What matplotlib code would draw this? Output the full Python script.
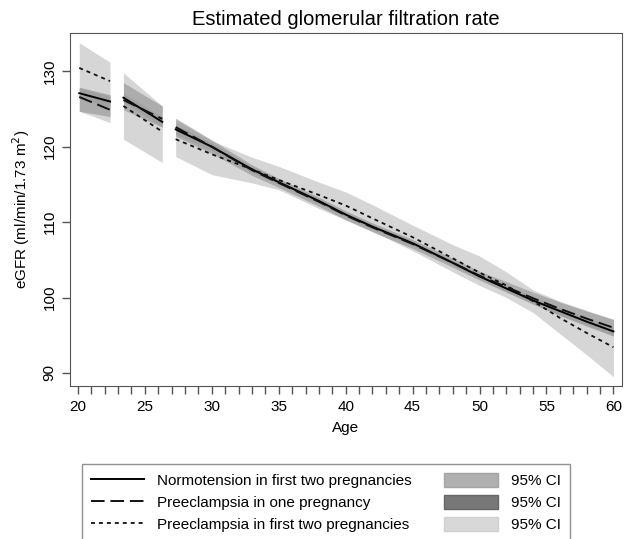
import matplotlib
matplotlib.use("Agg")
from matplotlib import pyplot as plt
from matplotlib.lines import Line2D
from matplotlib.patches import Patch
from matplotlib.ticker import MultipleLocator

plt.rcParams["font.family"] = ["Liberation Sans", "DejaVu Sans"]

# three age segments
age_1 = [20.1, 22.4]
age_2 = [23.4, 26.3]
age_3 = [27.3, 30, 33, 35, 38, 40, 42, 45, 48, 50, 52, 54, 56, 58, 60]

# normotension in first two pregnancies
norm_1 = [127.1, 126.0]
norm_1_lo = [126.4, 125.3]
norm_1_hi = [127.8, 126.7]
norm_2 = [126.5, 123.3]
norm_2_lo = [125.9, 122.7]
norm_2_hi = [127.1, 123.9]
norm_3 = [122.3, 120.0, 117.0, 115.3, 112.8, 111.0, 109.4, 107.2, 104.6, 102.8, 101.2, 99.6, 98.2, 96.8, 95.5]
norm_3_lo = [121.7, 119.5, 116.6, 115.0, 112.5, 110.7, 109.1, 106.9, 104.3, 102.5, 100.8, 99.2, 97.7, 96.3, 94.9]
norm_3_hi = [122.9, 120.5, 117.4, 115.6, 113.1, 111.3, 109.7, 107.5, 104.9, 103.1, 101.6, 100.0, 98.7, 97.3, 96.1]

# preeclampsia in one pregnancy
one_1 = [126.6, 124.9]
one_1_lo = [124.7, 124.0]
one_1_hi = [127.9, 126.9]
one_2 = [126.2, 123.7]
one_2_lo = [124.9, 122.6]
one_2_hi = [128.5, 125.4]
one_3 = [122.6, 120.0, 116.9, 115.2, 112.7, 110.9, 109.3, 107.1, 104.6, 102.9, 101.4, 99.9, 98.5, 97.2, 96.0]
one_3_lo = [121.4, 119.1, 116.2, 114.6, 112.1, 110.3, 108.7, 106.5, 104.0, 102.3, 100.7, 99.1, 97.6, 96.2, 94.9]
one_3_hi = [123.8, 120.9, 117.6, 115.8, 113.3, 111.5, 109.9, 107.7, 105.2, 103.5, 102.1, 100.7, 99.4, 98.2, 97.1]

# preeclampsia in first two pregnancies
two_1 = [130.45, 128.7]
two_1_lo = [124.7, 123.2]
two_1_hi = [133.8, 131.2]
two_2 = [125.4, 122.0]
two_2_lo = [121.0, 117.9]
two_2_hi = [129.8, 125.4]
two_3 = [121.0, 119.0, 117.0, 115.6, 113.6, 112.2, 110.5, 108.0, 105.2, 103.3, 101.6, 99.5, 97.3, 95.3, 93.4]
two_3_lo = [118.7, 116.3, 115.2, 114.3, 111.8, 110.3, 108.8, 106.2, 103.4, 101.6, 100.0, 98.0, 95.2, 92.4, 89.5]
two_3_hi = [123.6, 120.8, 118.6, 117.4, 115.3, 114.0, 112.3, 109.6, 107.0, 105.5, 103.4, 101.0, 99.5, 98.3, 97.1]

labels = ["Normotension in first two pregnancies",
          "Preeclampsia in one pregnancy",
          "Preeclampsia in first two pregnancies"]

fig = plt.figure(figsize=(6.24, 5.39), dpi=100)
ax = fig.add_axes([0.112, 0.283, 0.885, 0.656])

segments = [
    (age_1, norm_1, norm_1_lo, norm_1_hi, one_1, one_1_lo, one_1_hi, two_1, two_1_lo, two_1_hi),
    (age_2, norm_2, norm_2_lo, norm_2_hi, one_2, one_2_lo, one_2_hi, two_2, two_2_lo, two_2_hi),
    (age_3, norm_3, norm_3_lo, norm_3_hi, one_3, one_3_lo, one_3_hi, two_3, two_3_lo, two_3_hi),
]

for x, n, nlo, nhi, o, olo, ohi, t, tlo, thi in segments:
    ax.fill_between(x, tlo, thi, color="#d6d6d6", lw=0, zorder=1)
    ax.fill_between(x, olo, ohi, color="#6e6e6e", alpha=0.4, lw=0, zorder=2)
    ax.fill_between(x, nlo, nhi, color="#9a9a9a", alpha=0.6, lw=0, zorder=3)
    ax.plot(x, n, color="black", lw=1.4, zorder=5)
    ax.plot(x, o, color="#111111", lw=1.4, dashes=(7, 3), zorder=5)
    ax.plot(x, t, color="#111111", lw=1.3, dashes=(2.2, 2.2), zorder=5)

ax.set_xlim(19.4, 60.65)
ax.set_ylim(88.2, 135.1)
ax.xaxis.set_major_locator(MultipleLocator(5))
ax.xaxis.set_minor_locator(MultipleLocator(1))
ax.yaxis.set_major_locator(MultipleLocator(10))
ax.tick_params(axis="both", which="both", direction="out", color="#555555",
               length=6, width=1, labelsize=11)
for lab in ax.get_yticklabels():
    lab.set_rotation(90)
    lab.set_va("center")
for sp in ax.spines.values():
    sp.set_color("#555555")

ax.set_xlabel("Age", fontsize=11, labelpad=5)
ax.set_ylabel("eGFR (ml/min/1.73 m$^2$)", fontsize=11, labelpad=8)
ax.set_title("Estimated glomerular filtration rate", fontsize=14.5, pad=6)

# legend: lines in the first column, CI swatches in the second
handles = [
    Line2D([], [], color="black", lw=1.4),
    Line2D([], [], color="#111111", lw=1.4, dashes=(7, 3)),
    Line2D([], [], color="#111111", lw=1.3, dashes=(2.2, 2.2)),
    Patch(facecolor="#b0b0b0", edgecolor="#a4a4a4"),
    Patch(facecolor="#787878", edgecolor="#666666"),
    Patch(facecolor="#d8d8d8", edgecolor="#d0d0d0"),
]
leg_labels = labels + ["95% CI"] * 3
leg = fig.legend(handles, leg_labels, ncol=2, loc="upper left",
                 bbox_to_anchor=(0.131, 0.140), borderaxespad=0,
                 fontsize=11, frameon=True, fancybox=False,
                 handlelength=3.5, handleheight=1.1, handletextpad=0.85,
                 labelspacing=0.42, columnspacing=2.1, borderpad=0.6)
leg.get_frame().set_edgecolor("#777777")
leg.get_frame().set_linewidth(1)

fig.savefig("out.png", dpi=100)
